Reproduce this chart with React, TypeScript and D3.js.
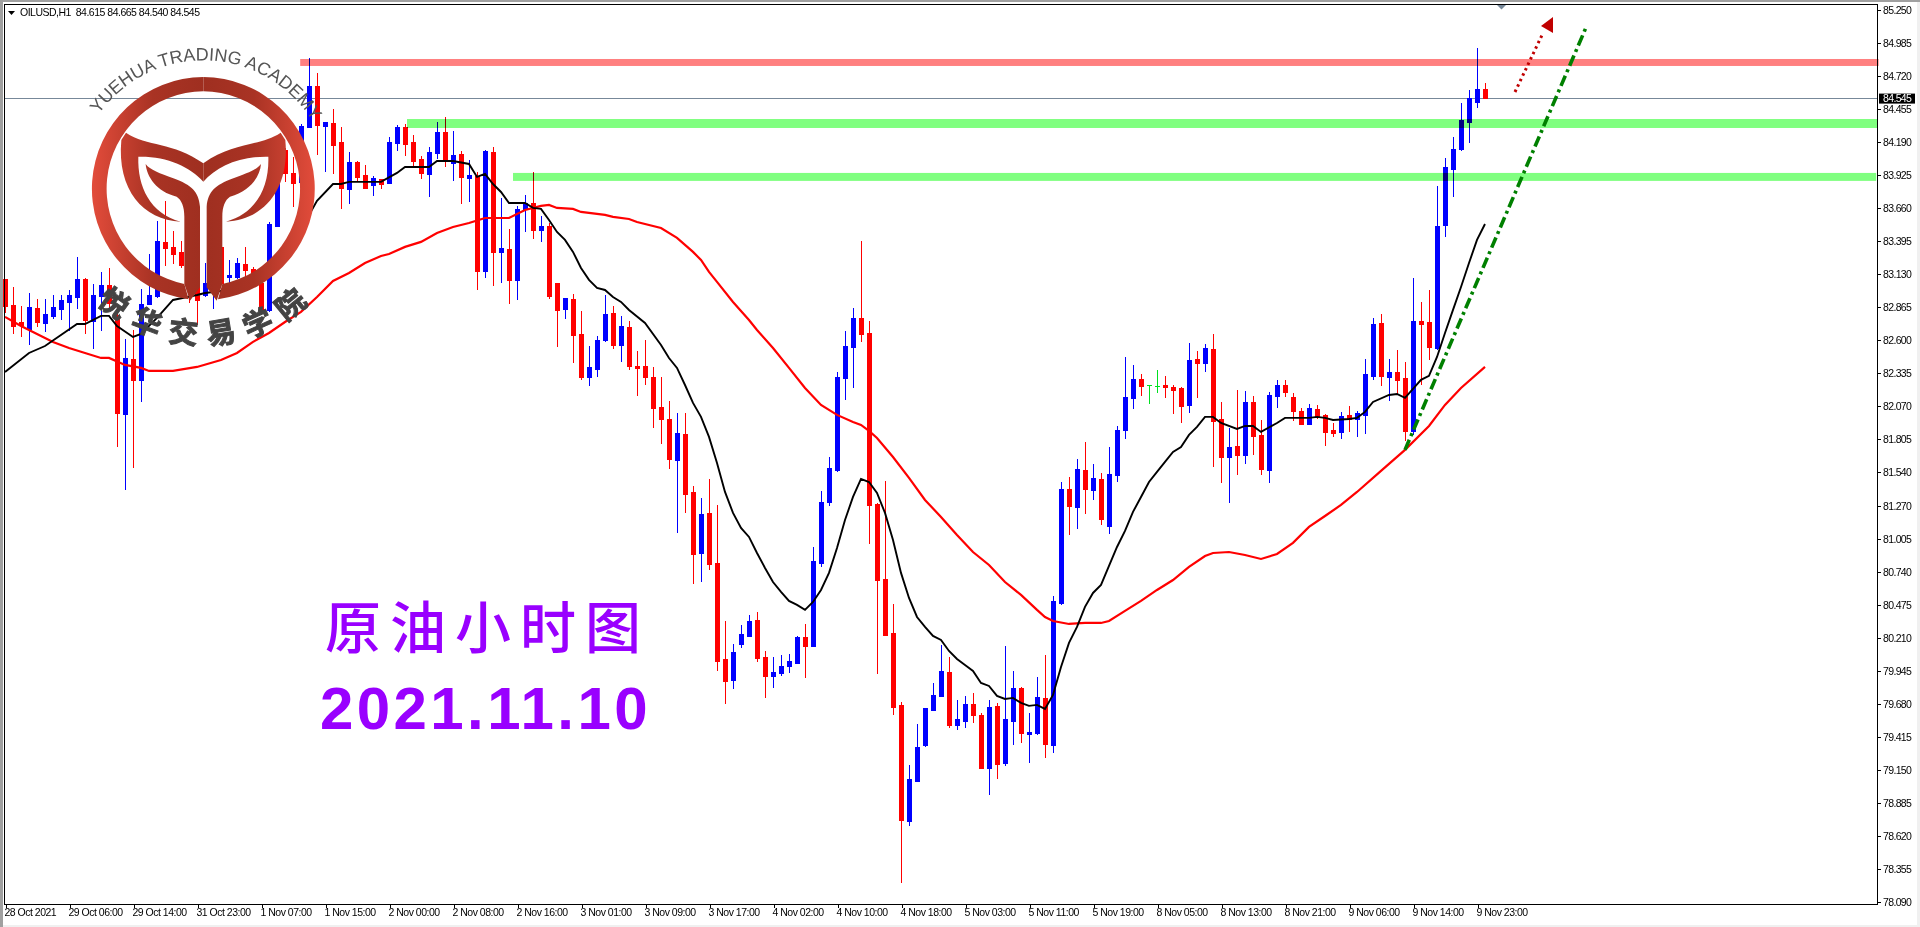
import { useEffect, useRef } from "react";
import * as d3 from "d3";

// hourly candles, oldest first
const opens = [
  83.09, 82.885, 82.745, 82.69, 82.86, 82.74, 82.795, 82.85, 82.91, 82.95,
  83.09, 82.755, 82.955, 83.045, 82.805, 82.01, 82.45, 82.28, 82.89, 82.955,
  83.39, 83.35, 83.31, 83.21, 83.045, 82.965, 83.005, 83.35, 83.11, 83.11,
  83.21, 83.175, 83.06, 82.845, 83.52, 84.13, 83.945, 83.87, 84.315, 84.64,
  84.32, 84.345, 84.19, 83.815, 84.03, 83.93, 83.85, 83.895, 83.86, 84.185,
  84.315, 84.195, 84.055, 83.935, 84.105, 84.275, 84.025, 84.095, 83.905, 83.92,
  83.155, 84.115, 83.31, 83.335, 83.085, 83.655, 83.705, 83.485, 83.52, 83.06,
  82.85, 82.93, 82.65, 82.305, 82.37, 82.605, 82.82, 82.56, 82.705, 82.395,
  82.395, 82.305, 82.065, 81.97, 81.64, 81.85, 81.38, 80.89, 81.215, 80.81,
  80.04, 79.87, 80.16, 80.225, 80.355, 80.055, 79.905, 79.93, 79.985, 80.01,
  80.22, 80.145, 80.81, 81.3, 81.56, 82.3, 82.545, 82.78, 82.66, 81.285,
  80.685, 80.25, 79.67, 78.74, 79.06, 79.35, 79.63, 79.745, 79.935, 79.51,
  79.545, 79.68, 79.59, 79.165, 79.665, 79.205, 79.545, 79.81, 79.44, 79.445,
  79.73, 79.35, 80.49, 81.405, 81.26, 81.56, 81.4, 81.485, 81.11, 81.52,
  81.88, 82.135, 82.29, 82.24, 82.235, 82.24, 82.225, 82.215, 82.08, 82.45,
  82.42, 82.53, 81.97, 81.665, 81.75, 81.68, 82.105, 81.84, 81.56, 82.155,
  82.24, 82.145, 82.035, 81.93, 82.05, 82.0, 81.88, 81.865, 82.0, 81.97,
  82.0, 82.315, 82.74, 82.305, 82.345, 82.3, 81.87, 82.755, 82.745, 82.54,
  83.525, 83.975, 84.135, 84.355, 84.515, 84.615,
];
const highs = [
  83.09, 83.03, 82.875, 82.98, 82.93, 82.93, 82.965, 82.965, 83.005, 83.27,
  83.1, 83.055, 83.15, 83.18, 82.885, 82.61, 82.68, 83.015, 83.295, 83.56,
  83.72, 83.48, 83.4, 83.325, 83.165, 83.22, 83.285, 83.365, 83.245, 83.26,
  83.35, 83.19, 83.085, 83.55, 84.01, 84.145, 84.07, 84.335, 84.865, 84.745,
  84.355, 84.46, 84.315, 84.115, 84.04, 84.01, 83.92, 83.895, 84.235, 84.33,
  84.34, 84.25, 84.08, 84.15, 84.355, 84.395, 84.28, 84.12, 84.05, 83.95,
  84.13, 84.15, 83.745, 83.495, 83.68, 83.765, 83.95, 83.6, 83.54, 83.06,
  82.94, 82.97, 82.835, 82.555, 82.635, 82.965, 82.875, 82.795, 82.755, 82.515,
  82.605, 82.385, 82.305, 82.115, 82.015, 82.015, 81.43, 81.335, 81.485, 81.28,
  80.345, 80.16, 80.315, 80.395, 80.42, 80.105, 80.055, 80.075, 80.08, 80.225,
  80.32, 80.94, 81.39, 81.665, 82.345, 82.675, 82.86, 83.4, 82.755, 81.295,
  81.47, 80.485, 79.695, 79.19, 79.52, 79.65, 79.85, 80.155, 80.055, 79.71,
  79.745, 79.77, 79.61, 79.71, 79.69, 80.145, 79.945, 79.815, 79.61, 79.895,
  80.075, 80.545, 81.46, 81.5, 81.645, 81.785, 81.605, 81.535, 81.745, 81.91,
  82.465, 82.4, 82.33, 82.24, 82.36, 82.315, 82.24, 82.225, 82.58, 82.515,
  82.57, 82.65, 82.105, 81.895, 82.2, 82.195, 82.155, 81.96, 82.185, 82.28,
  82.28, 82.175, 82.055, 82.09, 82.08, 82.01, 81.935, 82.025, 82.075, 82.035,
  82.45, 82.78, 82.81, 82.45, 82.52, 82.425, 83.1, 82.91, 83.005, 83.84,
  84.065, 84.235, 84.505, 84.61, 84.95, 84.665,
];
const lows = [
  82.82, 82.65, 82.625, 82.56, 82.705, 82.665, 82.77, 82.76, 82.675, 82.85,
  82.65, 82.53, 82.675, 82.845, 81.745, 81.4, 81.575, 82.105, 82.885, 82.94,
  83.195, 83.21, 83.18, 82.9, 82.72, 82.95, 82.85, 83.045, 82.995, 83.09,
  83.06, 83.045, 82.83, 82.83, 83.515, 83.87, 83.67, 83.865, 84.31, 84.09,
  83.95, 83.935, 83.655, 83.695, 83.87, 83.815, 83.76, 83.815, 83.855, 84.12,
  84.08, 84.0, 83.895, 83.75, 84.055, 83.99, 83.88, 83.695, 83.71, 83.005,
  83.1, 83.035, 83.06, 82.89, 82.925, 83.47, 83.415, 83.39, 82.93, 82.545,
  82.77, 82.42, 82.28, 82.235, 82.305, 82.585, 82.53, 82.425, 82.36, 82.155,
  82.24, 81.895, 81.77, 81.565, 81.055, 81.215, 80.645, 80.66, 80.755, 79.945,
  79.68, 79.8, 80.13, 80.225, 80.015, 79.73, 79.81, 79.905, 79.93, 80.01,
  79.89, 80.14, 80.78, 81.27, 81.545, 82.12, 82.215, 82.585, 80.965, 79.92,
  80.225, 79.59, 78.24, 78.7, 79.06, 79.335, 79.63, 79.735, 79.485, 79.47,
  79.485, 79.525, 79.16, 78.95, 79.08, 79.18, 79.35, 79.365, 79.205, 79.43,
  79.245, 79.285, 80.475, 81.035, 81.085, 81.205, 81.32, 81.115, 81.045, 81.46,
  81.81, 82.05, 82.155, 82.09, 82.175, 82.135, 82.01, 81.935, 82.015, 82.135,
  82.345, 81.585, 81.455, 81.295, 81.52, 81.605, 81.68, 81.52, 81.455, 82.055,
  82.145, 81.95, 81.93, 81.93, 81.97, 81.75, 81.825, 81.81, 81.865, 81.825,
  81.85, 82.28, 82.235, 82.115, 82.16, 81.79, 81.84, 82.24, 82.44, 82.52,
  83.43, 83.75, 84.12, 84.185, 84.465, 84.54,
];
const closes = [
  82.875, 82.715, 82.72, 82.87, 82.745, 82.81, 82.87, 82.925, 82.965, 83.09,
  82.76, 82.965, 83.045, 82.9, 82.015, 82.46, 82.28, 82.89, 82.965, 83.4,
  83.34, 83.295, 83.205, 83.045, 82.925, 83.06, 83.165, 83.06, 83.125, 83.22,
  83.165, 83.115, 82.845, 83.535, 83.945, 83.945, 83.86, 84.32, 84.64, 84.33,
  84.355, 84.17, 83.825, 84.03, 83.91, 83.825, 83.905, 83.855, 84.195, 84.315,
  84.18, 84.04, 83.945, 84.11, 84.275, 84.05, 84.09, 83.91, 83.93, 83.155,
  84.12, 83.31, 83.34, 83.085, 83.655, 83.705, 83.485, 83.52, 82.955, 82.845,
  82.94, 82.645, 82.305, 82.385, 82.605, 82.81, 82.56, 82.715, 82.395, 82.38,
  82.305, 82.055, 81.97, 81.645, 81.855, 81.365, 80.885, 81.205, 80.805, 80.025,
  79.865, 80.095, 80.24, 80.345, 80.05, 79.905, 79.935, 79.985, 80.025, 80.22,
  80.145, 80.83, 81.3, 81.575, 82.305, 82.555, 82.78, 82.65, 81.28, 80.675,
  80.235, 79.655, 78.75, 79.08, 79.335, 79.65, 79.75, 79.945, 79.51, 79.56,
  79.68, 79.59, 79.165, 79.655, 79.2, 79.56, 79.81, 79.445, 79.455, 79.735,
  79.36, 80.505, 81.405, 81.27, 81.565, 81.405, 81.495, 81.165, 81.525, 81.88,
  82.145, 82.29, 82.235, 82.24, 82.235, 82.225, 82.2, 82.075, 82.44, 82.42,
  82.54, 81.95, 81.665, 81.745, 81.68, 82.105, 81.83, 81.565, 82.16, 82.24,
  82.185, 82.035, 81.93, 82.055, 81.985, 81.865, 81.855, 81.995, 81.97, 82.015,
  82.33, 82.73, 82.315, 82.345, 82.28, 81.87, 82.755, 82.73, 82.545, 83.52,
  83.99, 84.135, 84.37, 84.545, 84.62, 84.545,
];

// black moving average: bars where the line was read, and its price there
const fastBars = [
  0, 3, 5, 9, 10, 12, 13, 14, 16, 17, 19, 21, 24, 25, 28, 31, 33, 35, 37, 38, 39, 41, 42, 43, 47, 49, 50,
  53, 54, 56, 58, 59, 60, 61, 62, 63, 65, 66, 67, 68, 69, 70, 71, 72, 73, 74, 75, 76, 77, 78, 80,
  82, 83, 84, 85, 86, 87, 88, 89, 90, 91, 92, 93, 94, 95, 96, 97, 98, 99, 100, 101, 102, 103, 104,
  105, 106, 107, 108, 109, 110, 111, 112, 113, 114, 115, 116, 117, 118, 119, 120, 121, 122, 123,
  124, 125, 126, 127, 128, 129, 130, 131, 132, 133, 134, 135, 136, 137, 138, 139, 140, 141, 142,
  143, 144, 145, 146, 147, 148, 149, 150, 151, 152, 154, 155, 156, 157, 159, 160, 163, 164, 165,
  166, 168, 169, 170, 171, 173, 174, 175, 176, 177, 178, 179, 180, 181, 182, 183, 184, 185,
];
const fastValues = [
  82.345, 82.498, 82.554, 82.731, 82.731, 82.796, 82.796, 82.715, 82.627, 82.651, 82.78, 82.924,
  82.964, 82.98, 83.004, 83.085, 83.165, 83.31, 83.486, 83.606, 83.72, 83.855, 83.855, 83.872, 83.872, 83.944,
  83.992, 83.992, 84.04, 84.04, 84.016, 83.912, 83.936, 83.855, 83.791, 83.703, 83.703, 83.663,
  83.655, 83.566, 83.47, 83.406, 83.31, 83.181, 83.085, 83.02, 83.004, 82.948, 82.908, 82.843,
  82.739, 82.562, 82.458, 82.378, 82.241, 82.097, 81.985, 81.824, 81.615, 81.382, 81.214, 81.093,
  81.021, 80.892, 80.772, 80.659, 80.579, 80.507, 80.475, 80.435, 80.499, 80.595, 80.732, 80.932,
  81.157, 81.342, 81.487, 81.462, 81.374, 81.214, 80.997, 80.732, 80.531, 80.378, 80.298, 80.226,
  80.194, 80.105, 80.041, 79.993, 79.945, 79.848, 79.824, 79.744, 79.72, 79.728, 79.688, 79.664,
  79.672, 79.64, 79.752, 79.977, 80.17, 80.298, 80.459, 80.571, 80.635, 80.788, 80.94, 81.069,
  81.222, 81.342, 81.462, 81.543, 81.623, 81.703, 81.743, 81.84, 81.904, 81.985, 81.985, 81.936,
  81.888, 81.912, 81.912, 81.864, 81.936, 81.977, 81.977, 81.985, 81.977, 81.96, 81.968, 81.977,
  82.025, 82.105, 82.161, 82.169, 82.137, 82.209, 82.282, 82.314, 82.466, 82.659, 82.844, 83.028,
  83.221, 83.406, 83.534,
];

// red moving average
const slowBars = [
  0, 2, 6, 8, 10, 12, 13, 15, 17, 18, 21, 24, 27, 29, 31, 33, 35, 37, 39, 41, 43, 45, 47, 48, 50,
  52, 54, 56, 58, 60, 63, 65, 67, 68, 69, 71, 72, 75, 76, 78, 79, 82, 84, 86, 87, 88, 89, 91, 93,
  94, 96, 98, 100, 102, 104, 106, 107, 108, 109, 111, 113, 115, 117, 119, 121, 123, 125, 127, 129,
  130, 131, 133, 135, 137, 138, 140, 142, 144, 146, 148, 150, 151, 153, 155, 157, 159, 161, 163,
  165, 167, 169, 172, 175, 178, 180, 182, 185,
];
const slowValues = [
  82.788, 82.715, 82.587, 82.538, 82.498, 82.458, 82.458, 82.402, 82.378, 82.354, 82.354, 82.386,
  82.442, 82.498, 82.587, 82.659, 82.747, 82.828, 82.948, 83.077, 83.141, 83.221, 83.277, 83.293,
  83.35, 83.39, 83.462, 83.51, 83.542, 83.582, 83.582, 83.647, 83.679, 83.687, 83.663, 83.655,
  83.631, 83.607, 83.591, 83.574, 83.55, 83.502, 83.422, 83.31, 83.245, 83.149, 83.069, 82.908,
  82.763, 82.683, 82.538, 82.378, 82.217, 82.081, 82.001, 81.944, 81.92, 81.872, 81.816, 81.663,
  81.495, 81.318, 81.181, 81.037, 80.9, 80.796, 80.659, 80.555, 80.435, 80.378, 80.346, 80.322,
  80.33, 80.33, 80.346, 80.427, 80.507, 80.595, 80.675, 80.78, 80.868, 80.892, 80.9, 80.876,
  80.844, 80.884, 80.973, 81.101, 81.189, 81.278, 81.382, 81.551, 81.72, 81.912, 82.081, 82.217,
  82.386,
];

// support and resistance bands: [first bar, last bar, upper price, lower price, colour]
const bands: [number, number, number, number, string][] = [
  [36.9, 234.2, 84.859, 84.803, "#ff8080"],
  [50.25, 234, 84.377, 84.305, "#80ff80"],
  [63.5, 233.9, 83.944, 83.88, "#80ff80"],
];

const trendBars = [175, 197.6];
const trendPrices = [81.72, 85.108];
const arrowBars = [188.75, 192.25];
const arrowPrices = [84.594, 85.068];
const arrowHeadBars = [193.5, 192, 193.5];
const arrowHeadPrices = [85.196, 85.124, 85.068];

const priceTicks = [
  85.25, 84.985, 84.72, 84.455, 84.19, 83.925, 83.66, 83.395, 83.13, 82.865, 82.6, 82.335, 82.07,
  81.805, 81.54, 81.27, 81.005, 80.74, 80.475, 80.21, 79.945, 79.68, 79.415, 79.15, 78.885, 78.62,
  78.355, 78.09,
];
const timeLabels = [
  "28 Oct 2021", "29 Oct 06:00", "29 Oct 14:00", "31 Oct 23:00", "1 Nov 07:00", "1 Nov 15:00",
  "2 Nov 00:00", "2 Nov 08:00", "2 Nov 16:00", "3 Nov 01:00", "3 Nov 09:00", "3 Nov 17:00",
  "4 Nov 02:00", "4 Nov 10:00", "4 Nov 18:00", "5 Nov 03:00", "5 Nov 11:00", "5 Nov 19:00",
  "8 Nov 05:00", "8 Nov 13:00", "8 Nov 21:00", "9 Nov 06:00", "9 Nov 14:00", "9 Nov 23:00",
];
const lastPrice = 84.545;
const header = "OILUSD,H1  84.615 84.665 84.540 84.545";

const WIDTH = 1920;
const HEIGHT = 927;
const plot = { left: 4, top: 4, right: 1877, bottom: 904 };
const UI_FONT = "'Liberation Sans', Arial, sans-serif";

const x = d3.scaleLinear().domain([0, 1]).range([5, 13]);
const y = d3.scaleLinear().domain([85.25, 78.09]).range([10.3, 901.9]);

function drawChart(el: SVGSVGElement) {
  const svg = d3.select(el);
  svg.selectAll("*").remove();

  // window chrome
  svg.append("rect").attr("width", WIDTH).attr("height", HEIGHT).attr("fill", "#f0f0f0");
  svg.append("rect").attr("x", 3).attr("y", 2).attr("width", 1914).attr("height", 923).attr("fill", "#fff");
  svg.append("rect").attr("width", 3).attr("height", HEIGHT).attr("fill", "#a0a0a0");
  svg.append("rect").attr("width", WIDTH).attr("height", 2).attr("fill", "#a0a0a0");

  // current price line
  svg
    .append("rect")
    .attr("x", plot.left)
    .attr("y", Math.round(y(lastPrice)))
    .attr("width", plot.right - plot.left)
    .attr("height", 1)
    .attr("fill", "#778899");

  // candles
  const candles = svg.append("g").attr("shape-rendering", "crispEdges");
  opens.forEach((open, i) => {
    const close = closes[i];
    const color = close > open ? "#0000ff" : close < open ? "#ff0000" : "#00e020";
    const cx = x(i);
    const top = Math.round(y(Math.max(open, close)));
    const bottom = Math.round(y(Math.min(open, close)));
    candles
      .append("rect")
      .attr("x", cx)
      .attr("y", Math.round(y(highs[i])))
      .attr("width", 1)
      .attr("height", Math.max(1, Math.round(y(lows[i])) - Math.round(y(highs[i]))))
      .attr("fill", color);
    candles
      .append("rect")
      .attr("x", cx - 2)
      .attr("y", top)
      .attr("width", 5)
      .attr("height", Math.max(1, bottom - top + 1))
      .attr("fill", color);
  });

  // moving averages
  const line = d3.line<number>().x((d) => x(d));
  const path = (bars: number[], values: number[]) =>
    line.y((_, i) => y(values[i]))(bars) as string;
  svg.append("path").attr("d", path(slowBars, slowValues)).attr("fill", "none").attr("stroke", "#ff0000").attr("stroke-width", 2.2);
  svg.append("path").attr("d", path(fastBars, fastValues)).attr("fill", "none").attr("stroke", "#000").attr("stroke-width", 1.9);

  // bands multiply over the candles, as the terminal's AND drawing does
  svg
    .append("g")
    .selectAll("rect")
    .data(bands)
    .join("rect")
    .attr("x", (d) => x(d[0]))
    .attr("y", (d) => y(d[2]))
    .attr("width", (d) => x(d[1]) - x(d[0]))
    .attr("height", (d) => y(d[3]) - y(d[2]))
    .attr("fill", (d) => d[4])
    .style("mix-blend-mode", "multiply");

  // hand-drawn trend line and arrow
  svg
    .append("path")
    .attr("d", path(trendBars, trendPrices))
    .attr("stroke", "#008000")
    .attr("stroke-width", 3.6)
    .attr("stroke-dasharray", "11 4 3 4");
  svg
    .append("path")
    .attr("d", path(arrowBars, arrowPrices))
    .attr("stroke", "#c00000")
    .attr("stroke-width", 3)
    .attr("stroke-dasharray", "2.5 3.5");
  svg
    .append("path")
    .attr("d", path(arrowHeadBars, arrowHeadPrices) + "Z")
    .attr("fill", "#c00000");

  // frame
  svg
    .append("path")
    .attr("d", `M${plot.left + 0.5} ${plot.bottom + 0.5}V${plot.top + 0.5}H${plot.right + 0.5}V${plot.bottom + 0.5}H${plot.left + 0.5}`)
    .attr("fill", "none")
    .attr("stroke", "#000")
    .attr("shape-rendering", "crispEdges");

  // price axis
  const yAxis = svg
    .append("g")
    .attr("transform", `translate(${plot.right + 0.5},0)`)
    .call(d3.axisRight(y).tickValues(priceTicks).tickFormat(d3.format(".3f")).tickSize(3).tickPadding(2.5));
  yAxis.select(".domain").remove();
  yAxis.selectAll("line").attr("shape-rendering", "crispEdges");
  yAxis.selectAll("text").attr("font-family", UI_FONT).attr("font-size", 10.5).attr("letter-spacing", -0.65).attr("fill", "#000");

  // time axis
  const xAxis = svg
    .append("g")
    .attr("transform", `translate(0.5,${plot.bottom + 0.5})`)
    .call(
      d3
        .axisBottom(x)
        .tickValues(timeLabels.map((_, i) => i * 8))
        .tickFormat((_, i) => timeLabels[i])
        .tickSize(3)
        .tickPadding(1.5),
    );
  xAxis.select(".domain").remove();
  xAxis.selectAll("line").attr("shape-rendering", "crispEdges");
  xAxis
    .selectAll("text")
    .attr("font-family", UI_FONT)
    .attr("font-size", 10.5)
    .attr("letter-spacing", -0.5)
    .attr("fill", "#000")
    .attr("text-anchor", "start")
    .attr("dx", -1.5);

  // last price tag
  const tagY = y(lastPrice);
  svg.append("rect").attr("x", 1879).attr("y", tagY - 4.5).attr("width", 36).attr("height", 10).attr("fill", "#000");
  svg
    .append("text")
    .attr("x", 1883)
    .attr("y", tagY + 4)
    .attr("font-family", UI_FONT)
    .attr("font-size", 10.5)
    .attr("letter-spacing", -0.65)
    .attr("fill", "#fff")
    .text(d3.format(".3f")(lastPrice));

  // header
  svg.append("path").attr("d", "M8 11H15L11.5 15Z").attr("fill", "#000");
  svg
    .append("text")
    .attr("x", 20)
    .attr("y", 16)
    .attr("font-family", UI_FONT)
    .attr("font-size", 10.5)
    .attr("letter-spacing", -0.5)
    .attr("fill", "#000")
    .style("white-space", "pre")
    .text(header);

  // shift marker on top of the frame
  svg.append("path").attr("d", "M1497 5H1506L1501.5 9.5Z").attr("fill", "#778899");
}

function Logo() {
  const ring = "M610 231 A335 335 0 0 0 566 898 L553 852 A292 292 0 0 1 610 274 Z";
  const petal =
    "M378 398 C440 440 520 425 610 490 L610 545 C570 500 500 468 415 470 C412 560 450 640 542 665 C430 660 350 570 364 420 Z";
  const stem =
    "M600 620 C596 575 575 555 520 535 C480 520 450 510 437 492 C440 530 470 575 530 590 C545 600 553 620 553 650 L553 852 L570 902 L600 862 Z";
  const half = (
    <>
      <path d={ring} />
      <path d={petal} />
      <path d={stem} />
    </>
  );
  return (
    <g transform="scale(0.33333)">
      <defs>
        <linearGradient id="logoFill" gradientUnits="userSpaceOnUse" x1="273" x2="610" y1="0" y2="0">
          <stop offset="0" stopColor="#e34c3b" />
          <stop offset="0.55" stopColor="#a93324" />
          <stop offset="1" stopColor="#9f2f20" />
        </linearGradient>
        <path id="logoTop" d="M225 566 A385 385 0 0 1 995 566" />
        <path id="logoBottom" d="M143 566 A467 467 0 0 0 1077 566" />
      </defs>
      <g fill="url(#logoFill)">
        {half}
        <g transform="translate(1220,0) scale(-1,1)">{half}</g>
      </g>
      <text fontFamily="'Liberation Sans', Arial, sans-serif" fontSize="54" fill="#555">
        <textPath href="#logoTop" startOffset="51%" textAnchor="middle">
          YUEHUA TRADING ACADEMY
        </textPath>
      </text>
      <text
        fontFamily="'Noto Sans CJK SC', sans-serif"
        fontWeight="700"
        fontSize="88"
        fill="#444"
        stroke="#444"
        strokeWidth="3"
        letterSpacing="34"
      >
        <textPath href="#logoBottom" startOffset="51%" textAnchor="middle">
          悦华交易学院
        </textPath>
      </text>
    </g>
  );
}

export default function App() {
  const chartRef = useRef<SVGGElement>(null);

  useEffect(() => {
    if (chartRef.current) {
      drawChart(chartRef.current as unknown as SVGSVGElement);
    }
  }, []);

  return (
    <svg
      width={WIDTH}
      height={HEIGHT}
      style={{ position: "absolute", left: 0, top: 0, display: "block", isolation: "isolate" }}
    >
      <g ref={chartRef} />
      <Logo />
      <text x={325} y={648} fontFamily="'Noto Sans CJK SC', sans-serif" fontWeight="500" fontSize={56} letterSpacing={9} fill="#9900ff">
        原油小时图
      </text>
      <text x={320} y={729} fontFamily="'Liberation Sans', Arial, sans-serif" fontWeight="700" fontSize={60} letterSpacing={3.4} fill="#9900ff">
        2021.11.10
      </text>
    </svg>
  );
}
